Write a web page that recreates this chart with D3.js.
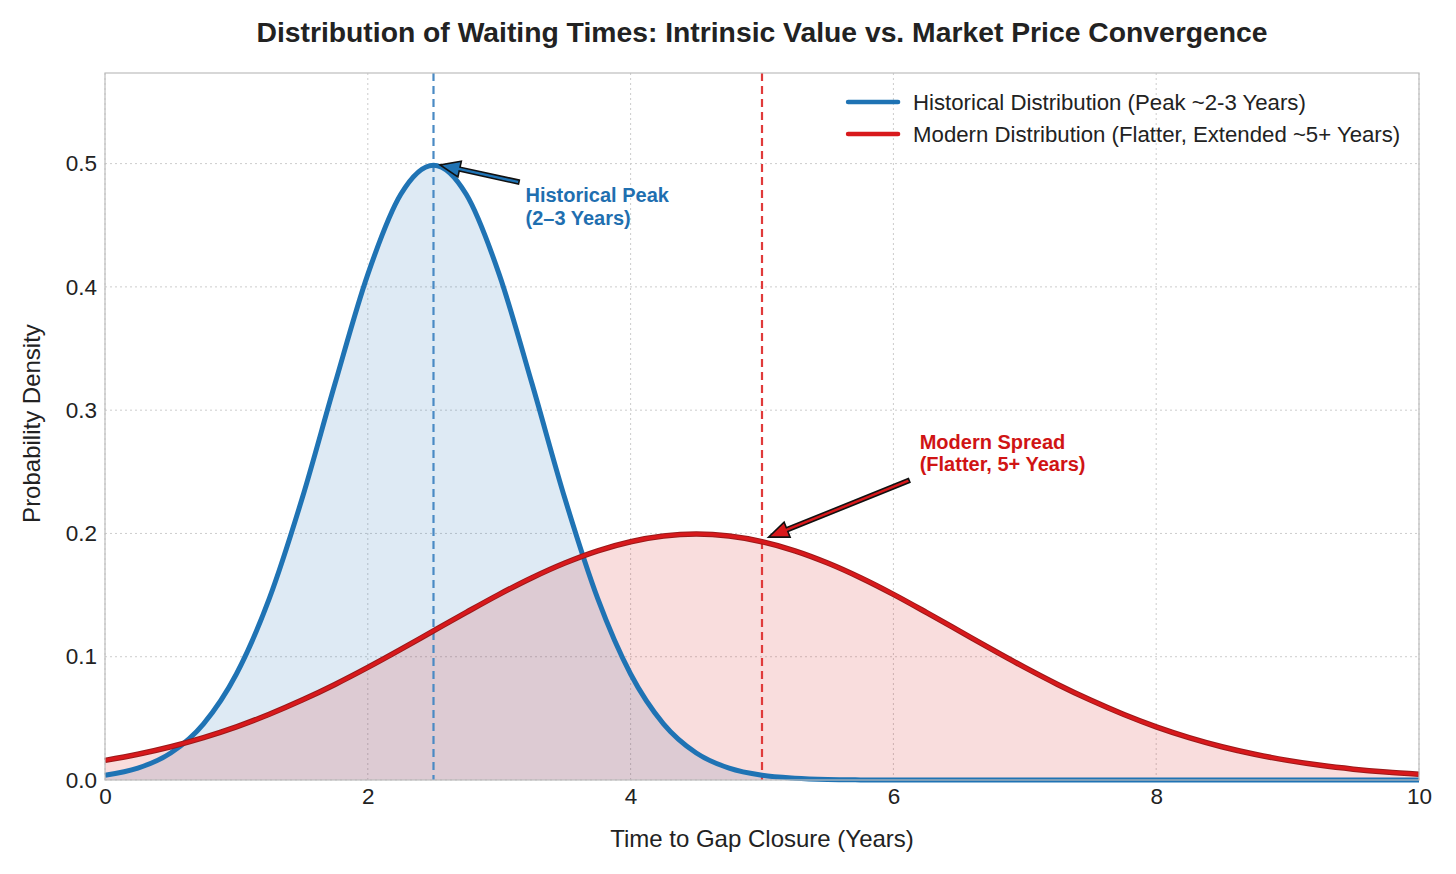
<!DOCTYPE html>
<html>
<head>
<meta charset="utf-8">
<script src="https://cdn.jsdelivr.net/npm/d3@7"></script>
<style>
  body { margin: 0; background: #fff; font-family: "Liberation Sans", Arial, sans-serif; }
  .grid line { stroke: #cccccc; stroke-dasharray: 2,3; stroke-width: 1; }
  .axis path, .axis line { display: none; }
  .axis text { font-size: 22.5px; fill: #222; font-family: "Liberation Sans", Arial, sans-serif; }
</style>
</head>
<body>
<script>
// values
var years = d3.range(0, 10.001, 0.25);
var historical = [0.0038, 0.0096, 0.0219, 0.0456, 0.0860, 0.1471, 0.2283, 0.3214, 0.4102, 0.4749,
  0.4987, 0.4749, 0.4102, 0.3214, 0.2283, 0.1471, 0.0860, 0.0456, 0.0219, 0.0096,
  0.0038, 0.0014, 0.0004, 0.0001, 0, 0, 0, 0, 0, 0,
  0, 0, 0, 0, 0, 0, 0, 0, 0, 0, 0];
var modern = [0.0159, 0.0209, 0.0270, 0.0344, 0.0431, 0.0533, 0.0648, 0.0775, 0.0913, 0.1059,
  0.1210, 0.1360, 0.1506, 0.1641, 0.1760, 0.1859, 0.1933, 0.1979, 0.1995, 0.1979,
  0.1933, 0.1859, 0.1760, 0.1641, 0.1506, 0.1360, 0.1210, 0.1059, 0.0913, 0.0775,
  0.0648, 0.0533, 0.0431, 0.0344, 0.0270, 0.0209, 0.0159, 0.0119, 0.0088, 0.0064, 0.0046];
var xTicks = [0, 2, 4, 6, 8, 10];
var yTicks = [0, 0.1, 0.2, 0.3, 0.4, 0.5];
var seriesNames = ["Historical Distribution (Peak ~2-3 Years)", "Modern Distribution (Flatter, Extended ~5+ Years)"];
var peakLines = [2.5, 5];

var blue = "#1f73b4", red = "#d8191c";

var W = 1456, H = 874;
var margin = {top: 73, left: 105, right: 37, bottom: 94};
var width = W - margin.left - margin.right,
    height = H - margin.top - margin.bottom;

var svg = d3.select("body").append("svg")
    .attr("width", W)
    .attr("height", H);

var g = svg.append("g")
    .attr("transform", `translate(${margin.left}, ${margin.top})`);

var x = d3.scaleLinear().domain([0, 10]).range([0, width]),
    y = d3.scaleLinear().domain([0, 0.5735]).range([height, 0]);

// grid
g.append("g").attr("class", "grid")
  .selectAll("line").data(xTicks).enter().append("line")
  .attr("x1", d => x(d)).attr("x2", d => x(d)).attr("y1", 0).attr("y2", height);
g.append("g").attr("class", "grid")
  .selectAll("line").data(yTicks).enter().append("line")
  .attr("y1", d => y(d)).attr("y2", d => y(d)).attr("x1", 0).attr("x2", width);

var hist = years.map((t, i) => ({t: t, v: historical[i]})),
    mod = years.map((t, i) => ({t: t, v: modern[i]}));

var area = d3.area().x(d => x(d.t)).y0(height).y1(d => y(d.v)).curve(d3.curveMonotoneX);
var line = d3.line().x(d => x(d.t)).y(d => y(d.v)).curve(d3.curveMonotoneX);

g.append("path").datum(hist).attr("d", area).attr("fill", blue).attr("fill-opacity", 0.15);
g.append("path").datum(mod).attr("d", area).attr("fill", red).attr("fill-opacity", 0.15);

// dashed reference lines
g.selectAll(".vline").data(peakLines).enter().append("line")
  .attr("x1", d => x(d)).attr("x2", d => x(d))
  .attr("y1", 0).attr("y2", height)
  .attr("stroke", (d, i) => i ? "#e03a3a" : "#4a8ac4")
  .attr("stroke-width", 2.2)
  .attr("stroke-dasharray", "8,5");

g.append("path").datum(hist).attr("d", line)
  .attr("fill", "none").attr("stroke", blue).attr("stroke-width", 5);
// red line with a slightly darker edge
g.append("path").datum(mod).attr("d", line)
  .attr("fill", "none").attr("stroke", "#9a1a1a").attr("stroke-width", 5.5);
g.append("path").datum(mod).attr("d", line)
  .attr("fill", "none").attr("stroke", red).attr("stroke-width", 3.5);

// frame
g.append("rect").attr("width", width).attr("height", height)
  .attr("fill", "none").attr("stroke", "#bdbdbd").attr("stroke-width", 1.2);

// axes
g.append("g").attr("class", "axis")
  .attr("transform", `translate(0, ${height})`)
  .call(d3.axisBottom(x).tickValues(xTicks).tickFormat(d3.format("d")).tickSize(0).tickPadding(8));
g.append("g").attr("class", "axis")
  .call(d3.axisLeft(y).tickValues(yTicks).tickFormat(d3.format(".1f")).tickSize(0).tickPadding(8));

// labels
svg.append("text")
  .attr("x", margin.left + width / 2).attr("y", 42)
  .attr("text-anchor", "middle")
  .style("font-size", "28.3px").style("font-weight", "bold").attr("fill", "#222")
  .text("Distribution of Waiting Times: Intrinsic Value vs. Market Price Convergence");
svg.append("text")
  .attr("x", margin.left + width / 2).attr("y", 847)
  .attr("text-anchor", "middle")
  .style("font-size", "24px").attr("fill", "#222")
  .text("Time to Gap Closure (Years)");
svg.append("text")
  .attr("transform", `translate(40, ${margin.top + height / 2 - 3}) rotate(-90)`)
  .attr("text-anchor", "middle")
  .style("font-size", "24px").attr("fill", "#222")
  .text("Probability Density");

// annotations with arrows
function arrow(x1, y1, x2, y2, color) {
  var dx = x2 - x1, dy = y2 - y1, L = Math.sqrt(dx * dx + dy * dy);
  var ux = dx / L, uy = dy / L, px = -uy, py = ux;
  var head = 20, hw = 8, sw = 2;
  var bx = x2 - ux * head, by = y2 - uy * head;
  var pts = [
    [x1 + px * sw, y1 + py * sw],
    [bx + px * sw, by + py * sw],
    [bx + px * hw, by + py * hw],
    [x2, y2],
    [bx - px * hw, by - py * hw],
    [bx - px * sw, by - py * sw],
    [x1 - px * sw, y1 - py * sw]
  ];
  g.append("path")
    .attr("d", "M" + pts.map(p => p.join(",")).join("L") + "Z")
    .attr("fill", color).attr("stroke", "#111").attr("stroke-width", 1.6)
    .attr("stroke-linejoin", "miter");
}
arrow(x(3.15), y(0.485), x(2.55), y(0.499), blue);
arrow(x(6.12), y(0.243), x(5.05), y(0.197), red);

var notes = [
  {t: 3.2, v: 0.4685, lines: ["Historical Peak", "(2\u20133 Years)"], color: "#1f6fb0"},
  {t: 6.2, v: 0.2685, lines: ["Modern Spread", "(Flatter, 5+ Years)"], color: "#d01414"}
];
notes.forEach(n => {
  var tx = g.append("text").attr("x", x(n.t)).attr("y", y(n.v))
    .style("font-size", "20px").style("font-weight", "bold").attr("fill", n.color);
  n.lines.forEach((s, i) => tx.append("tspan").attr("x", x(n.t)).attr("dy", i ? 22.5 : 0).text(s));
});

// legend
var legend = g.append("g").attr("transform", `translate(${x(5.655)}, 29)`);
[blue, red].forEach((c, i) => {
  legend.append("line").attr("x1", 0).attr("x2", 50)
    .attr("y1", i * 32).attr("y2", i * 32)
    .attr("stroke", c).attr("stroke-width", 4.5).attr("stroke-linecap", "round");
  legend.append("text").attr("x", 65).attr("y", i * 32 + 8)
    .style("font-size", "22.2px").attr("fill", "#222").text(seriesNames[i]);
});
</script>
</body>
</html>
